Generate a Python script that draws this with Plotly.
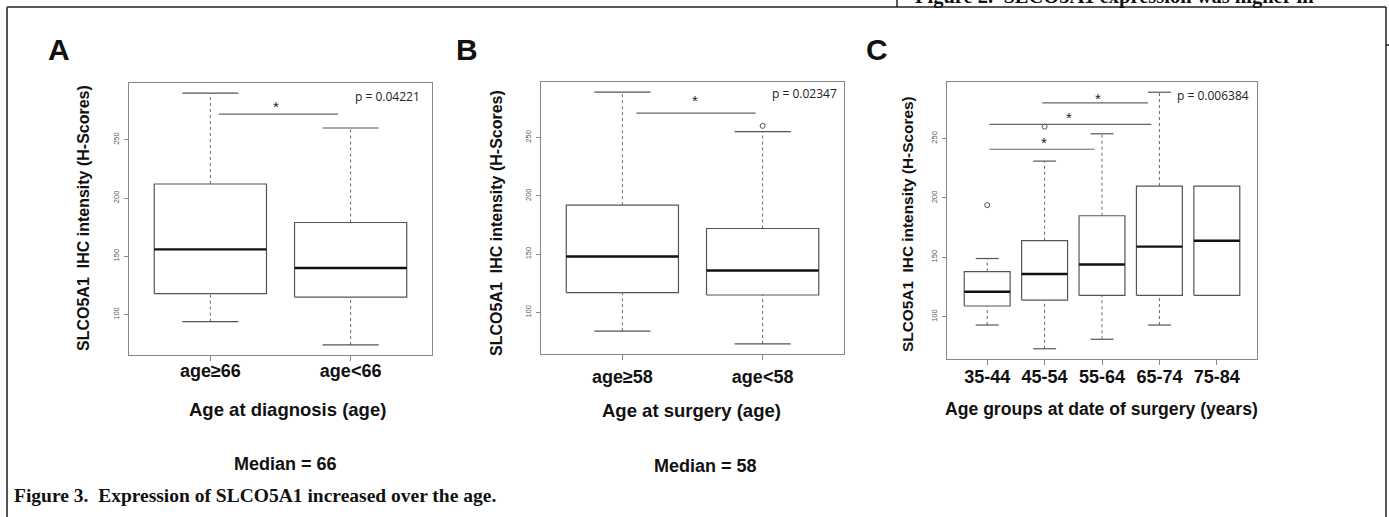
import plotly.graph_objects as go

W, H = 1389, 517

# ---------------- data ----------------
cats_a = ["age≥66", "age<66"]
q1_a = [118, 115]
med_a = [156, 140]
q3_a = [212, 179]
lo_a = [94, 74]
hi_a = [290, 260]
out_x_a = []
out_y_a = []
sig_a = [(0.06, 0.91, 272)]
star_a = [(0.47, 282)]

cats_b = ["age≥58", "age<58"]
q1_b = [117, 115]
med_b = [148, 136]
q3_b = [192, 172]
lo_b = [84, 73]
hi_b = [289, 255]
out_x_b = [1]
out_y_b = [260]
sig_b = [(0.10, 0.95, 271)]
star_b = [(0.52, 285)]

cats_c = ["35-44", "45-54", "55-64", "65-74", "75-84"]
q1_c = [109, 114, 118, 118, 118]
med_c = [121, 136, 144, 159, 164]
q3_c = [138, 164, 185, 210, 210]
lo_c = [93, 73, 81, 93, 118]
hi_c = [149, 231, 254, 289, 210]
out_x_c = [0, 1]
out_y_c = [194, 260]
sig_c = [(0.96, 2.80, 280), (0.04, 2.86, 262), (0.04, 1.87, 241)]
star_c = [(1.93, 287), (1.43, 271), (0.99, 250)]

p_a, p_b, p_c = "p = 0.04221", "p = 0.02347", "p = 0.006384"
yticks = [100, 150, 200, 250]

# ---------------- helpers ----------------
def px(x):
    return x / W

def py(y):
    return 1 - y / H

BOXW = 0.4
CAPW = 0.2
GRAY = "#555555"

fig = go.Figure()
annotations = []


def add_panel(xa, ya, q1, med, q3, lo, hi, ox, oy, sig, stars):
    xr = "x" if xa == 1 else f"x{xa}"
    yr = "y" if ya == 1 else f"y{ya}"
    bx, by, mx, my, wx, wy, cx, cy = [], [], [], [], [], [], [], []
    for i in range(len(q1)):
        bx += [i - BOXW, i + BOXW, i + BOXW, i - BOXW, i - BOXW, None]
        by += [q1[i], q1[i], q3[i], q3[i], q1[i], None]
        mx += [i - BOXW, i + BOXW, None]
        my += [med[i], med[i], None]
        if hi[i] > q3[i]:
            wx += [i, i, None]
            wy += [q3[i], hi[i], None]
            cx += [i - CAPW, i + CAPW, None]
            cy += [hi[i], hi[i], None]
        if lo[i] < q1[i]:
            wx += [i, i, None]
            wy += [lo[i], q1[i], None]
            cx += [i - CAPW, i + CAPW, None]
            cy += [lo[i], lo[i], None]
    common = dict(xaxis=xr, yaxis=yr, showlegend=False, hoverinfo="skip")
    fig.add_trace(go.Scatter(x=wx, y=wy, mode="lines",
                             line=dict(color="#666666", width=1, dash="3px,3px"), **common))
    fig.add_trace(go.Scatter(x=cx, y=cy, mode="lines",
                             line=dict(color=GRAY, width=1.2), **common))
    fig.add_trace(go.Scatter(x=bx, y=by, mode="lines",
                             line=dict(color=GRAY, width=1.2), **common))
    fig.add_trace(go.Scatter(x=mx, y=my, mode="lines",
                             line=dict(color="#111111", width=2.4), **common))
    if ox:
        fig.add_trace(go.Scatter(x=ox, y=oy, mode="markers",
                                 marker=dict(symbol="circle-open", size=5,
                                             color=GRAY, line=dict(width=1)),
                                 **common))
    sx, sy = [], []
    for (a, b, v) in sig:
        sx += [a, b, None]
        sy += [v, v, None]
    fig.add_trace(go.Scatter(x=sx, y=sy, mode="lines",
                             line=dict(color="#666666", width=1.2), **common))
    for (sxv, syv) in stars:
        annotations.append(dict(x=sxv, y=syv, xref=xr, yref=yr, text="*",
                                showarrow=False, yshift=-4,
                                font=dict(family="Liberation Sans", size=15, color="#222")))


add_panel(1, 1, q1_a, med_a, q3_a, lo_a, hi_a, out_x_a, out_y_a, sig_a, star_a)
add_panel(2, 2, q1_b, med_b, q3_b, lo_b, hi_b, out_x_b, out_y_b, sig_b, star_b)
add_panel(3, 3, q1_c, med_c, q3_c, lo_c, hi_c, out_x_c, out_y_c, sig_c, star_c)


def xaxis(dom, n, cats, standoff):
    pad = 0.04 * n
    return dict(domain=[px(dom[0]), px(dom[1])],
                range=[-0.5 - pad, n - 0.5 + pad],
                tickvals=list(range(n)), ticktext=cats,
                showline=True, mirror=True, linecolor="#888888", linewidth=1.2,
                ticks="outside", ticklen=5, tickcolor="#888888", tickwidth=1,
                showgrid=False, zeroline=False, fixedrange=True,
                tickfont=dict(family="Liberation Sans", size=18, color="#111",
                              weight="bold"),
                ticklabelstandoff=standoff)


def yaxis(dom, rng, anchor):
    return dict(domain=[py(dom[1]), py(dom[0])], range=rng, anchor=anchor,
                tickvals=yticks, tickangle=-90,
                showline=True, mirror=True, linecolor="#888888", linewidth=1.2,
                ticks="outside", ticklen=4, tickcolor="#888888", tickwidth=1,
                showgrid=False, zeroline=False, fixedrange=True,
                tickfont=dict(family="Liberation Sans", size=7.5, color="#555"),
                ticklabelstandoff=2)


fig.update_layout(
    width=W, height=H,
    margin=dict(l=0, r=0, t=0, b=0),
    paper_bgcolor="white", plot_bgcolor="white",
    xaxis=dict(xaxis((129, 432), 2, cats_a, -6), anchor="y"),
    yaxis=yaxis((83, 355), [65.4, 298.6], "x"),
    xaxis2=dict(xaxis((541, 844), 2, cats_b, 1), anchor="y2"),
    yaxis2=yaxis((82, 354), [64.4, 297.6], "x2"),
    xaxis3=dict(xaxis((947, 1257), 5, cats_c, -4), anchor="y3"),
    yaxis3=yaxis((82, 359), [64.4, 297.6], "x3"),
)

sans = "Liberation Sans"


def ann(x, y, text, size, family=sans, bold=True, angle=0, xanchor="center",
        yanchor="middle", color="#111"):
    annotations.append(dict(x=px(x), y=py(y), xref="paper", yref="paper",
                            text=text, showarrow=False, textangle=angle,
                            xanchor=xanchor, yanchor=yanchor,
                            font=dict(family=family, size=size, color=color,
                                      weight="bold" if bold else "normal")))


# panel letters
ann(59, 50, "A", 30)
ann(467, 50, "B", 30)
ann(877, 50, "C", 30)
# y titles
ytitle = "SLCO5A1\u00a0 IHC intensity (H-Scores)"
ann(83, 218, ytitle, 16, angle=-90)
ann(497, 223, ytitle, 16, angle=-90)
ann(907, 224, ytitle, 15.4, angle=-90)
# x titles
ann(287, 409, "Age at diagnosis (age)", 18.5)
ann(691, 410, "Age at surgery (age)", 18.5)
ann(1101, 409, "Age groups at date of surgery (years)", 17.6)
# medians
ann(285, 464, "Median = 66", 18)
ann(706, 466, "Median = 58", 18)
# p values
ann(422, 96, p_a, 12, family="Open Sans", bold=False, xanchor="right", color="#222")
ann(839, 93, p_b, 12, family="Open Sans", bold=False, xanchor="right", color="#222")
ann(1251, 95, p_c, 12, family="Open Sans", bold=False, xanchor="right", color="#222")
# captions
ann(12, 495, "Figure 3.\u00a0 Expression of SLCO5A1 increased over the age.", 19.5,
    family="Liberation Serif", xanchor="left")
ann(913, 10, "Figure 2.\u00a0 SLCO5A1 expression was higher in", 20.5,
    family="Liberation Serif", xanchor="left", yanchor="bottom")

fig.update_layout(annotations=annotations)

# frame lines (page decoration)
def line(x0, y0, x1, y1, color="#222", width=1.5):
    return dict(type="line", xref="paper", yref="paper",
                x0=px(x0), y0=py(y0), x1=px(x1), y1=py(y1),
                line=dict(color=color, width=width))

fig.update_layout(shapes=[
    line(7, 7, 1386, 7),
    line(7, 7, 7, 517, color="#555", width=2),
    line(1386, 7, 1386, 517),
    line(897, 0, 897, 7),
    line(1386, 45, 1389, 45),
])

fig.write_html("out.html",
               config={"displayModeBar": False, "staticPlot": True},
               post_script="document.body.style.margin='0';"
                           "document.body.style.padding='0';"
                           "document.body.style.overflow='hidden';")
